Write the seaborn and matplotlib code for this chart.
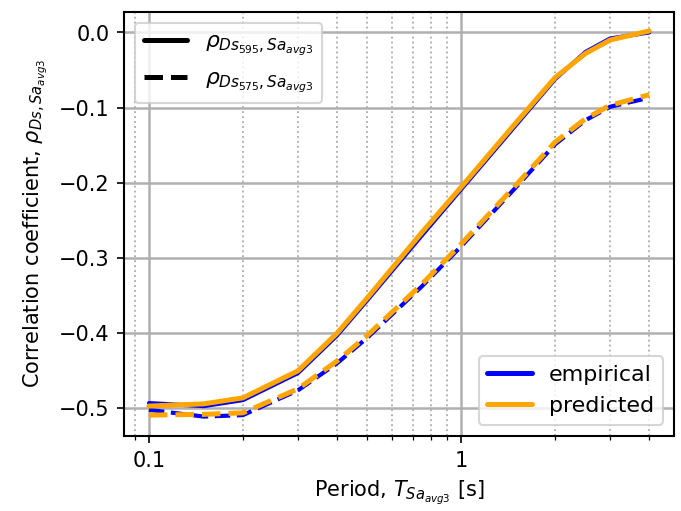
import numpy as np
import pandas as pd
import matplotlib
matplotlib.use("Agg")
import matplotlib.pyplot as plt
import matplotlib.ticker as mticker
from matplotlib.lines import Line2D
import seaborn as sns

# Spectral periods [s]
periods = [0.1, 0.15, 0.2, 0.3, 0.4, 0.5, 0.75, 1.0, 1.5, 2.0, 2.5, 3.0, 4.0]

# Correlation of Ds5-95 with Sa_avg3
rho595_empirical = [-0.494, -0.498, -0.490, -0.454, -0.404, -0.357, -0.270,
                    -0.209, -0.123, -0.062, -0.026, -0.008, 0.000]
rho595_predicted = [-0.498, -0.495, -0.487, -0.451, -0.401, -0.354, -0.266,
                    -0.206, -0.120, -0.060, -0.028, -0.010, 0.002]

# Correlation of Ds5-75 with Sa_avg3
rho575_empirical = [-0.503, -0.512, -0.510, -0.477, -0.441, -0.407, -0.338,
                    -0.285, -0.206, -0.149, -0.117, -0.099, -0.087]
rho575_predicted = [-0.510, -0.509, -0.507, -0.475, -0.438, -0.404, -0.335,
                    -0.282, -0.203, -0.146, -0.115, -0.097, -0.083]

sns.set_theme(style="white")
plt.rcParams.update({
    "font.family": ["DejaVu Sans"],
    "font.size": 10,
    "axes.edgecolor": "black",
    "axes.linewidth": 1.0,
    "xtick.bottom": True,
    "ytick.left": True,
    "xtick.color": "black",
    "ytick.color": "black",
    "axes.labelcolor": "black",
    "text.color": "black",
    "mathtext.fontset": "dejavusans",
})

fig = plt.figure(figsize=(4.54, 3.407), dpi=150)
ax = fig.add_axes([0.182, 0.147, 0.808, 0.83])

lw = 2.4
series = [
    (rho595_empirical, "blue", "-", 2.0),
    (rho575_empirical, "blue", "--", 2.0),
    (rho595_predicted, "orange", "-", lw),
    (rho575_predicted, "orange", "--", lw),
]
for vals, color, ls, w in series:
    sns.lineplot(x=periods, y=vals, color=color, linestyle=ls, linewidth=w, ax=ax)

ax.set_xscale("log")
ax.xaxis.set_major_locator(mticker.LogLocator(base=10))
ax.xaxis.set_major_formatter(mticker.FormatStrFormatter("%g"))
ax.xaxis.set_minor_locator(mticker.LogLocator(base=10, subs=np.arange(2, 10)))
ax.xaxis.set_minor_formatter(mticker.NullFormatter())
ax.set_yticks([-0.5, -0.4, -0.3, -0.2, -0.1, 0.0])
ax.tick_params(which="major", length=3.5, width=0.8, labelsize=10)
ax.tick_params(which="minor", length=2, width=0.6)

ax.grid(which="major", color="#b0b0b0", linestyle="-", linewidth=1.2)
ax.grid(which="minor", color="#b0b0b0", linestyle=":", linewidth=0.9)
ax.set_axisbelow(True)

ax.set_xlabel(r"Period, $T_{Sa_{avg3}}$ [s]", fontsize=10)
ax.set_ylabel(r"Correlation coefficient, $\rho_{Ds,Sa_{avg3}}$", fontsize=10)

style_handles = [
    Line2D([0], [0], color="black", linestyle="-", linewidth=lw),
    Line2D([0], [0], color="black", linestyle="--", linewidth=lw),
]
style_labels = [r"$\rho_{Ds_{595},Sa_{avg3}}$", r"$\rho_{Ds_{575},Sa_{avg3}}$"]
leg1 = ax.legend(style_handles, style_labels, loc="upper left", fontsize=10.5)
ax.add_artist(leg1)

color_handles = [
    Line2D([0], [0], color="blue", linewidth=lw),
    Line2D([0], [0], color="orange", linewidth=lw),
]
ax.legend(color_handles, ["empirical", "predicted"], loc="lower right", fontsize=10.6)

for side in ["top", "right", "left", "bottom"]:
    ax.spines[side].set_visible(True)
    ax.spines[side].set_color("black")

fig.savefig("out.png", dpi=150)
